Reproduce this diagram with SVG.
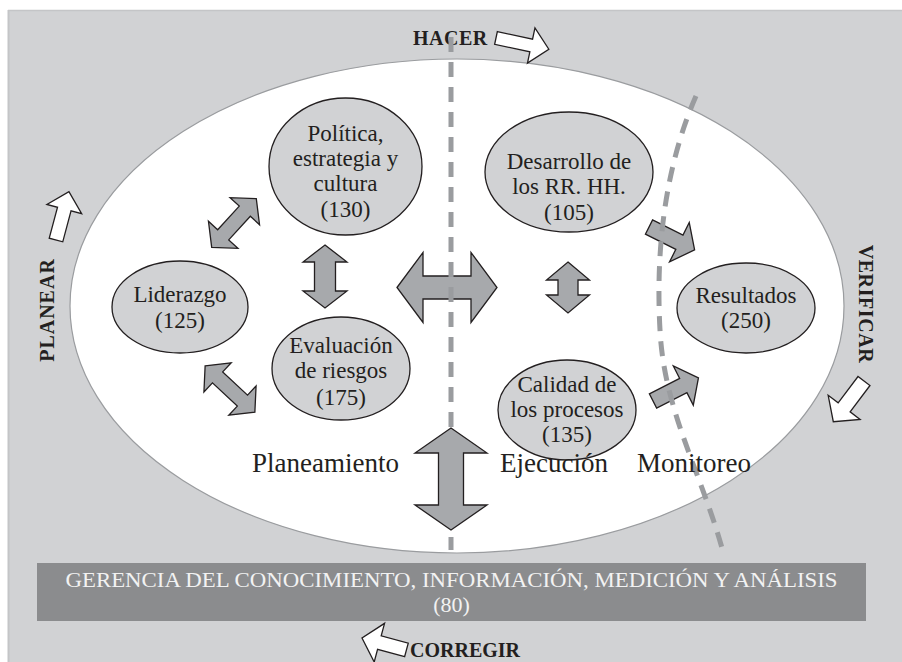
<svg xmlns="http://www.w3.org/2000/svg" width="902" height="662" viewBox="0 0 902 662">
  <style>
    .node { fill: #d1d2d4; stroke: #231f20; stroke-width: 1.3; }
    .ntext { font-family: "Liberation Serif", "Times New Roman", serif; font-size: 23px; fill: #231f20; text-anchor: middle; }
    .phase { font-family: "Liberation Serif", "Times New Roman", serif; font-size: 27px; fill: #231f20; }
    .cycle { font-family: "Liberation Serif", "Times New Roman", serif; font-size: 20px; font-weight: bold; fill: #231f20; }
    .garrow { fill: #a7a9ac; stroke: #231f20; stroke-width: 1.3; stroke-linejoin: miter; }
    .warrow { fill: #ffffff; stroke: #231f20; stroke-width: 1.3; stroke-linejoin: miter; }
    .dash { fill: none; stroke: #9a9c9f; stroke-width: 5; stroke-dasharray: 15 10; }
    .bar { font-family: "Liberation Serif", "Times New Roman", serif; font-size: 22px; fill: #f2f2f2; text-anchor: middle; }
  </style>

  <!-- page background and cycle field -->
  <rect x="0" y="0" width="902" height="662" fill="#ffffff"/>
  <rect x="8" y="10" width="894" height="652" fill="#d1d2d4"/>
  <line x1="8.5" y1="10" x2="8.5" y2="662" stroke="#c4c5c7" stroke-width="2"/>
  <line x1="8" y1="10.5" x2="902" y2="10.5" stroke="#c4c5c7" stroke-width="1.5"/>
  <ellipse cx="457" cy="306" rx="387" ry="247" fill="#ffffff" stroke="#9a9c9f" stroke-width="1.2"/>

  <!-- PDCA cycle labels and outer arrows -->
  <g id="hacer">
    <text class="cycle" x="413" y="45" letter-spacing="0.5">HACER</text>
    <polygon class="warrow" transform="translate(496,38) rotate(12)" points="0,-6.5 36,-6.5 36,-18 54,0 36,18 36,6.5 0,6.5"/>
  </g>
  <g id="planear">
    <text class="cycle" transform="translate(54,310) rotate(-90)" text-anchor="middle" letter-spacing="1">PLANEAR</text>
    <polygon class="warrow" transform="translate(56,240) rotate(-75)" points="0,-7 32,-7 32,-18 50,0 32,18 32,7 0,7"/>
  </g>
  <g id="verificar">
    <text class="cycle" transform="translate(859,304) rotate(90)" text-anchor="middle" letter-spacing="0.6">VERIFICAR</text>
    <polygon class="warrow" transform="translate(864,381) rotate(127)" points="0,-7.5 33,-7.5 33,-20 51,0 33,20 33,7.5 0,7.5"/>
  </g>
  <g id="corregir">
    <text class="cycle" x="410" y="657">CORREGIR</text>
    <polygon class="warrow" transform="translate(362,638) rotate(195) translate(-46,0)" points="0,-7 28,-7 28,-20 46,0 28,20 28,7 0,7"/>
  </g>

  <!-- connectors -->
  <g id="connectors">
    <!-- Política <-> Liderazgo -->
    <polygon class="garrow" transform="translate(234,223) rotate(-47.5)" points="-33,0 -16,-20 -16,-7.5 16,-7.5 16,-20 33,0 16,20 16,7.5 -16,7.5 -16,20"/>
    <!-- Liderazgo <-> Evaluación -->
    <polygon class="garrow" transform="translate(230,389) rotate(43)" points="-34,0 -17,-20 -17,-7.5 17,-7.5 17,-20 34,0 17,20 17,7.5 -17,7.5 -17,20"/>
    <!-- Política <-> Evaluación -->
    <polygon class="garrow" transform="translate(325,276.5) rotate(90)" points="-31.5,0 -14.5,-22 -14.5,-10.5 14.5,-10.5 14.5,-22 31.5,0 14.5,22 14.5,10.5 -14.5,10.5 -14.5,22"/>
    <!-- planning <-> execution -->
    <polygon class="garrow" transform="translate(447,287.5)" points="-50,0 -24,-35 -24,-11.5 24,-11.5 24,-35 50,0 24,35 24,11.5 -24,11.5 -24,35"/>
    <!-- Desarrollo <-> Calidad -->
    <polygon class="garrow" transform="translate(568,287.5) rotate(90)" points="-25.5,0 -7.5,-21.5 -7.5,-10 7.5,-10 7.5,-21.5 25.5,0 7.5,21.5 7.5,10 -7.5,10 -7.5,21.5"/>
    <!-- Desarrollo -> Resultados -->
    <polygon class="garrow" transform="translate(649,227) rotate(26.6)" points="0,-8 34,-8 34,-22 51,0 34,22 34,8 0,8"/>
    <!-- Calidad -> Resultados -->
    <polygon class="garrow" transform="translate(653,401) rotate(-27)" points="0,-8 34,-8 34,-22 51,0 34,22 34,8 0,8"/>

    <!-- phase boundaries -->
    <line class="dash" x1="451" y1="37" x2="451" y2="550"/>
    <path class="dash" d="M696,96 C668,160 655,240 660,330 C664,410 700,470 722,548"/>

    <!-- knowledge management <-> execution -->
    <polygon class="garrow" transform="translate(451,479) rotate(90)" points="-51,0 -26,-36 -26,-12.5 26,-12.5 26,-36 51,0 26,36 26,12.5 -26,12.5 -26,36"/>
  </g>

  <!-- nodes -->
  <g id="politica">
    <ellipse class="node" cx="345.5" cy="166.5" rx="76.5" ry="68.5"/>
    <text class="ntext" x="345.5" y="141">Política,</text>
    <text class="ntext" x="345.5" y="166">estrategia y</text>
    <text class="ntext" x="345.5" y="191">cultura</text>
    <text class="ntext" x="345.5" y="217">(130)</text>
  </g>
  <g id="liderazgo">
    <ellipse class="node" cx="180" cy="307" rx="68" ry="46"/>
    <text class="ntext" x="180" y="302">Liderazgo</text>
    <text class="ntext" x="180" y="328">(125)</text>
  </g>
  <g id="evaluacion">
    <ellipse class="node" cx="341" cy="368.5" rx="69" ry="51.5"/>
    <text class="ntext" x="341" y="353">Evaluación</text>
    <text class="ntext" x="341" y="378">de riesgos</text>
    <text class="ntext" x="341" y="405">(175)</text>
  </g>
  <g id="desarrollo">
    <ellipse class="node" cx="569" cy="172" rx="84" ry="60"/>
    <text class="ntext" x="569" y="169">Desarrollo de</text>
    <text class="ntext" x="569" y="194">los RR. HH.</text>
    <text class="ntext" x="569" y="220">(105)</text>
  </g>
  <g id="resultados">
    <ellipse class="node" cx="746" cy="308" rx="69" ry="45"/>
    <text class="ntext" x="746" y="303">Resultados</text>
    <text class="ntext" x="746" y="328">(250)</text>
  </g>
  <g id="calidad">
    <ellipse class="node" cx="567" cy="410" rx="69" ry="50"/>
    <text class="ntext" x="567" y="392">Calidad de</text>
    <text class="ntext" x="567" y="417">los procesos</text>
    <text class="ntext" x="567" y="442">(135)</text>
  </g>

  <!-- phase labels -->
  <text class="phase" x="252" y="472">Planeamiento</text>
  <text class="phase" x="500" y="472">Ejecución</text>
  <text class="phase" x="637" y="472">Monitoreo</text>

  <!-- knowledge management bar -->
  <g id="gerencia">
    <rect x="37" y="563" width="829" height="58" fill="#8b8c8e"/>
    <text class="bar" x="451.5" y="587" textLength="772" lengthAdjust="spacingAndGlyphs">GERENCIA DEL CONOCIMIENTO, INFORMACIÓN, MEDICIÓN Y ANÁLISIS</text>
    <text class="bar" x="451.5" y="612">(80)</text>
  </g>
</svg>
